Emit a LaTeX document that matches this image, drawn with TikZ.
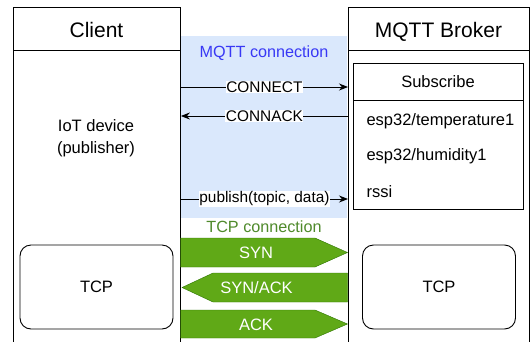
\documentclass[tikz,border=0pt]{standalone}
\usepackage{fontspec}
\setmainfont{Liberation Sans}
\usetikzlibrary{arrows.meta,calc,positioning}
\usepackage{xcolor}
\definecolor{mqttfill}{HTML}{DAE8FC}
\definecolor{mqttblue}{HTML}{3838F5}
\definecolor{tcpfill}{HTML}{60A917}
\definecolor{tcpline}{HTML}{2D7600}
\definecolor{tcptext}{HTML}{4F8A2B}

\tikzset{
  lane/.style={draw, line width=0.9pt, inner sep=0pt, anchor=north west},
  laneTitle/.style={anchor=base, font=\fontsize{21}{25}\selectfont},
  txt/.style={anchor=base, font=\fontsize{16.5}{22}\selectfont},
  msg/.style={fill=white, inner sep=0.5pt, font=\fontsize{15.4}{18}\selectfont},
  msgArrow/.style={-{Stealth[length=9pt,width=7pt]}, line width=0.9pt},
  tcpBox/.style={draw, line width=0.9pt, rounded corners=11pt, minimum width=153pt,
    minimum height=84pt, font=\fontsize{16.5}{20}\selectfont},
  flag/.style={fill=tcpfill, draw=tcpline, line width=0.4pt},
  flagText/.style={anchor=base, text=white, font=\fontsize{16.5}{20}\selectfont}
}

\begin{document}
\begin{tikzpicture}[x=1pt,y=-1pt]
  \clip (0,0) rectangle (531,341);
  \fill[white] (0,0) rectangle (531,341);
  % MQTT area
  \fill[mqttfill] (181,36) rectangle (347,218);
  \node[anchor=base, text=mqttblue, font=\fontsize{16.2}{18}\selectfont] (mqttname) at (264,57) {MQTT connection};
  \node[anchor=base, text=tcptext, font=\fontsize{16.2}{18}\selectfont] (tcpname) at (264,232) {TCP connection};

  % Lanes
  \node[lane, minimum width=167pt, minimum height=345pt] (client) at (13,7) {};
  \node[lane, minimum width=181pt, minimum height=345pt] (broker) at (348,7) {};
  \coordinate (hdr) at (0,50);
  \draw[line width=0.9pt] (client.west |- hdr) -- (client.east |- hdr);
  \draw[line width=0.9pt] (broker.west |- hdr) -- (broker.east |- hdr);
  \node[laneTitle] (clientname) at (96.5,37) {Client};
  \node[laneTitle] (brokername) at (438.5,37) {MQTT Broker};

  % Client side
  \node[txt] (device) at (96,131) {IoT device};
  \node[txt] (role) at (96,153) {(publisher)};
  \node[tcpBox] (tcpc) at (96.5,287) {TCP};

  % Broker side
  \node[lane, minimum width=170pt, minimum height=146pt] (sub) at (353,63) {};
  \coordinate (subhdr) at (0,100);
  \draw[line width=0.9pt] (sub.west |- subhdr) -- (sub.east |- subhdr);
  \node[txt] (subname) at (438,87) {Subscribe};
  \node[txt, anchor=base west] (temp) at (363,125) {esp32/temperature1};
  \node[txt, anchor=base west] (hum) at (363,160) {esp32/humidity1};
  \node[txt, anchor=base west] (rssi) at (363,197) {rssi};
  \node[tcpBox] (tcpb) at (439,287) {TCP};

  % MQTT messages
  \coordinate (m1) at (0,87);
  \coordinate (m2) at (0,116);
  \coordinate (m3) at (0,199);
  \draw[msgArrow] (client.east |- m1) -- node[msg] (connect) {CONNECT} (broker.west |- m1);
  \draw[msgArrow] (broker.west |- m2) -- node[msg] (connack) {CONNACK} (client.east |- m2);
  \draw[msgArrow] (client.east |- m3) -- node[msg] (publish) {publish(topic, data)} (broker.west |- m3);

  % TCP handshake
  \draw[flag] (180.5,238) -- (315,238) -- (347.5,252.5) -- (315,267) -- (180.5,267) -- cycle;
  \draw[flag] (182,287.5) -- (213,273) -- (347.5,273) -- (347.5,302) -- (213,302) -- cycle;
  \draw[flag] (180.5,310) -- (315,310) -- (347.5,324) -- (315,338) -- (180.5,338) -- cycle;
  \node[flagText] (syn) at (256,258) {SYN};
  \node[flagText] (synack) at (256.5,293.5) {SYN/ACK};
  \node[flagText] (ack) at (256,330) {ACK};
\end{tikzpicture}
\end{document}
